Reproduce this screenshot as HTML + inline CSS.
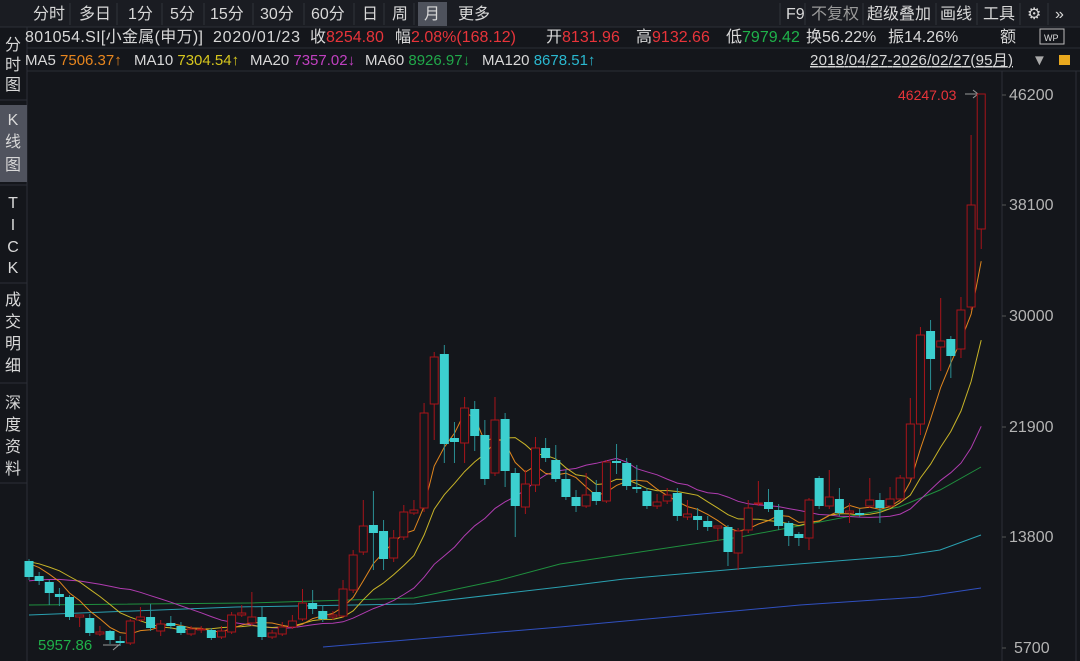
<!DOCTYPE html>
<html><head><meta charset="utf-8"><style>
html,body{margin:0;padding:0;background:#14161b;}
svg{display:block;font-family:"Liberation Sans","Noto Sans CJK SC",sans-serif;}
</style></head><body>
<svg id="s" width="1080" height="661" viewBox="0 0 1080 661" xmlns="http://www.w3.org/2000/svg">
<rect width="1080" height="661" fill="#14161b"/>
<rect x="0" y="0" width="1080" height="27" fill="#1a1c22"/>
<line x1="0" y1="27" x2="1080" y2="27" stroke="#2c2f37"/>
<line x1="27" y1="48" x2="1080" y2="48" stroke="#2a2d35"/>
<line x1="27" y1="71" x2="1080" y2="71" stroke="#2a2d35"/>
<line x1="27" y1="27" x2="27" y2="661" stroke="#2c2f37"/>
<line x1="1002" y1="71" x2="1002" y2="661" stroke="#2c2f37"/>
<line x1="1076" y1="71" x2="1076" y2="661" stroke="#2c2f37"/>
<rect x="418" y="2" width="29" height="24" fill="#4e525c"/>
<g fill="#d8d8d8" font-size="16">
<text x="33" y="19">分时</text><text x="79" y="19">多日</text><text x="128" y="19">1分</text><text x="170" y="19">5分</text>
<text x="210" y="19">15分</text><text x="260" y="19">30分</text><text x="311" y="19">60分</text><text x="362" y="19">日</text>
<text x="392" y="19">周</text><text x="424" y="19">月</text><text x="458" y="19">更多</text>
<text x="786" y="19">F9</text><text x="811" y="19" fill="#9a9a9a">不复权</text><text x="867" y="19">超级叠加</text>
<text x="940" y="19">画线</text><text x="983" y="19">工具</text><text x="1027" y="19">⚙</text><text x="1055" y="19">»</text>
</g>
<g stroke="#30333b"><line x1="70" y1="3" x2="70" y2="25"/><line x1="117" y1="3" x2="117" y2="25"/><line x1="162" y1="3" x2="162" y2="25"/><line x1="204" y1="3" x2="204" y2="25"/><line x1="253" y1="3" x2="253" y2="25"/><line x1="304" y1="3" x2="304" y2="25"/><line x1="354" y1="3" x2="354" y2="25"/><line x1="384" y1="3" x2="384" y2="25"/><line x1="414" y1="3" x2="414" y2="25"/><line x1="780" y1="3" x2="780" y2="25"/><line x1="805" y1="3" x2="805" y2="25"/><line x1="863" y1="3" x2="863" y2="25"/><line x1="936" y1="3" x2="936" y2="25"/><line x1="977" y1="3" x2="977" y2="25"/><line x1="1020" y1="3" x2="1020" y2="25"/><line x1="1048" y1="3" x2="1048" y2="25"/></g>
<g font-size="16" fill="#d8d8d8">
<text x="25" y="42" textLength="178">801054.SI[小金属(申万)]</text><text x="213" y="42" textLength="87">2020/01/23</text>
<text x="310" y="42">收<tspan fill="#e8343a">8254.80</tspan></text>
<text x="395" y="42">幅<tspan fill="#e8343a">2.08%(168.12)</tspan></text>
<text x="546" y="42">开<tspan fill="#e8343a">8131.96</tspan></text>
<text x="636" y="42">高<tspan fill="#e8343a">9132.66</tspan></text>
<text x="726" y="42">低<tspan fill="#1fb14a">7979.42</tspan></text>
<text x="806" y="42">换56.22%</text><text x="888" y="42">振14.26%</text><text x="1000" y="42">额</text>
</g>
<g font-size="15" fill="#d8d8d8">
<text x="25" y="65">MA5 <tspan fill="#e8861e">7506.37↑</tspan></text>
<text x="134" y="65">MA10 <tspan fill="#d6c61e">7304.54↑</tspan></text>
<text x="250" y="65">MA20 <tspan fill="#c040c0">7357.02↓</tspan></text>
<text x="365" y="65">MA60 <tspan fill="#21a84a">8926.97↓</tspan></text>
<text x="482" y="65">MA120 <tspan fill="#2ab8d0">8678.51↑</tspan></text>
<text x="810" y="65" text-decoration="underline" textLength="203">2018/04/27-2026/02/27(95月)</text>
<text x="1032" y="65" fill="#aaa">▼</text>
</g>
<rect x="1040" y="29" width="24" height="15" fill="none" stroke="#bbb"/><text x="1044" y="41" font-size="9" fill="#ddd">WP</text>
<rect x="1059" y="55" width="11" height="10" fill="#e8a81e"/>
<rect x="0" y="105" width="27" height="77" fill="#50535e"/>
<g fill="#d8d8d8" font-size="16" text-anchor="middle">
<text x="13" y="50">分</text><text x="13" y="70">时</text><text x="13" y="90">图</text>
<text x="13" y="125">K</text><text x="13" y="147">线</text><text x="13" y="170">图</text>
<text x="13" y="208">T</text><text x="13" y="230">I</text><text x="13" y="252">C</text><text x="13" y="273">K</text>
<text x="13" y="305">成</text><text x="13" y="327">交</text><text x="13" y="349">明</text><text x="13" y="371">细</text>
<text x="13" y="408">深</text><text x="13" y="430">度</text><text x="13" y="452">资</text><text x="13" y="474">料</text>
</g>
<g stroke="#2c2f37"><line x1="0" y1="100" x2="27" y2="100"/><line x1="0" y1="185" x2="27" y2="185"/><line x1="0" y1="283" x2="27" y2="283"/><line x1="0" y1="383" x2="27" y2="383"/><line x1="0" y1="483" x2="27" y2="483"/></g>
<g fill="#b4b4b4" font-size="16">
<text x="1009" y="100">46200</text><text x="1009" y="210">38100</text><text x="1009" y="321">30000</text>
<text x="1009" y="432">21900</text><text x="1009" y="542">13800</text><text x="1014" y="653">5700</text>
</g>
<g stroke="#555"><line x1="1002" y1="95" x2="1006" y2="95"/><line x1="1002" y1="205" x2="1006" y2="205"/><line x1="1002" y1="316" x2="1006" y2="316"/><line x1="1002" y1="427" x2="1006" y2="427"/><line x1="1002" y1="537" x2="1006" y2="537"/><line x1="1002" y1="648" x2="1006" y2="648"/></g>
<text x="898" y="100" font-size="14" fill="#e8343a">46247.03</text>
<path d="M965 94 H978 M973 90 L978 94 L973 98" stroke="#999" fill="none"/>
<text x="38" y="650" font-size="15" fill="#1fb14a">5957.86</text>
<path d="M103 645 H120 M113 650 L120 644" stroke="#999" fill="none"/>
<g id="lines" fill="none" stroke-width="1"></g>
<g id="c"></g>
</svg>
<script>
var D=[
['c',561,577,559,580],['c',576,581,572,585],['c',582,593,580,605],['c',594,597,588,606],['c',597,617,595,620],
['r',615,617,615,627],['c',618,633,614,636],['r',632,634,626,636],['c',631,640,630,644],['c',641,643,636,646],
['r',621,643,619,645],['r',617,620,607,622],['c',617,628,604,631],['r',624,631,620,636],['c',623,626,616,629],
['c',626,633,622,635],['r',629,634,626,636],['r',629,630,626,633],['c',630,638,628,640],['r',631,637,626,639],
['r',615,632,612,634],['r',613,615,605,617],['r',617,623,592,626],['c',617,637,607,640],['r',633,637,630,639],
['r',627,634,622,636],['r',621,627,615,629],['r',603,619,589,621],['c',603,609,590,614],['c',611,619,605,622],
['r',615,617,611,620],['r',589,616,580,618],['r',555,590,550,593],['r',526,552,500,555],['c',525,533,491,570],
['c',531,559,520,570],['r',538,558,530,562],['r',512,537,505,540],['r',510,513,500,515],['r',413,508,403,512],
['r',357,404,352,440],['c',354,444,345,463],['c',438,442,422,463],['r',408,443,397,463],['c',409,436,401,451],
['c',435,479,420,485],['r',420,473,397,476],['c',419,471,413,487],['c',473,506,468,537],['r',484,507,470,514],
['r',448,485,437,492],
['c',448,458,438,462],['c',460,479,445,482],['c',479,497,470,500],['c',497,506,490,512],['r',495,506,473,508],
['c',492,501,480,505],['r',462,501,460,503],['c',461,463,444,474],['c',463,486,458,490],['c',487,489,465,493],
['c',491,506,488,509],['r',502,506,494,509],['r',495,501,488,504],['c',493,516,488,521],['r',514,517,500,520],
['c',516,520,508,530],['c',521,527,516,531],['r',526,528,526,541],['c',527,552,525,566],['r',531,553,528,570],
['r',508,530,500,533],['r',503,504,481,506],['c',502,509,489,512],['c',510,526,504,530],['c',523,536,521,546],
['c',534,538,532,546],['r',500,538,498,550],['c',478,506,476,509],['r',497,506,470,509],['c',499,513,488,516],
['r',511,513,503,523],['c',513,515,509,517],['r',500,506,478,508],['c',500,508,493,523],['r',499,506,487,508],
['r',478,499,475,502],['r',424,478,398,480],['r',335,424,327,435],['c',331,359,320,390],['r',341,347,298,371],
['c',339,356,336,378],['r',310,349,297,358],['r',205,307,135,310],['r',94,229,94,249]];
var NS='http://www.w3.org/2000/svg',g=document.getElementById('c'),L=document.getElementById('lines');
function el(t,a,p){var e=document.createElementNS(NS,t);for(var k in a)e.setAttribute(k,a[k]);p.appendChild(e);return e;}
var X=function(i){return 29+i*10.13;};
var closes=[];
D.forEach(function(d,i){
 var x=X(i),col=d[0]=='r'?'#a8141a':'#3ccfcf',top=d[1],bot=Math.max(d[2],d[1]+1);
 closes.push(d[0]=='r'?d[1]:d[2]);
 el('line',{x1:x,x2:x,y1:d[3],y2:top,stroke:d[0]=='r'?'#a8141a':'#2a8f94'},g);
 el('line',{x1:x,x2:x,y1:bot,y2:d[4],stroke:d[0]=='r'?'#a8141a':'#2a8f94'},g);
 if(d[0]=='r') el('rect',{x:x-4,y:top,width:8,height:bot-top,fill:'#14161b',stroke:col},g);
 else el('rect',{x:x-4.5,y:top,width:9,height:bot-top,fill:col},g);
});
var hist=[600,600,600,600,600,600,600,600,600,600,560,560,560,560,560,560,560,560,560];
var all=hist.concat(closes);
function ma(n,c){var pts=[];for(var i=0;i<closes.length;i++){var j=i+hist.length,s=0;for(var k=0;k<n;k++)s+=all[j-k];pts.push(X(i).toFixed(1)+','+(s/n).toFixed(1));}
 el('polyline',{points:pts.join(' '),stroke:c},L);}
el('polyline',{points:'29,605 250,603 414,598 500,580 560,564 740,537 899,507 940,490 981,467',stroke:'#1f8f3e'},L);
el('polyline',{points:'29,615 236,607 414,604 560,587 624,579 760,567 900,556 940,550 981,535',stroke:'#2aa0b0'},L);
el('polyline',{points:'323,647 560,627 800,605 920,597 981,588',stroke:'#3050c0'},L);
ma(20,'#b03cb0');ma(10,'#c8b428');ma(5,'#e0861e');
</script>
</body></html>
